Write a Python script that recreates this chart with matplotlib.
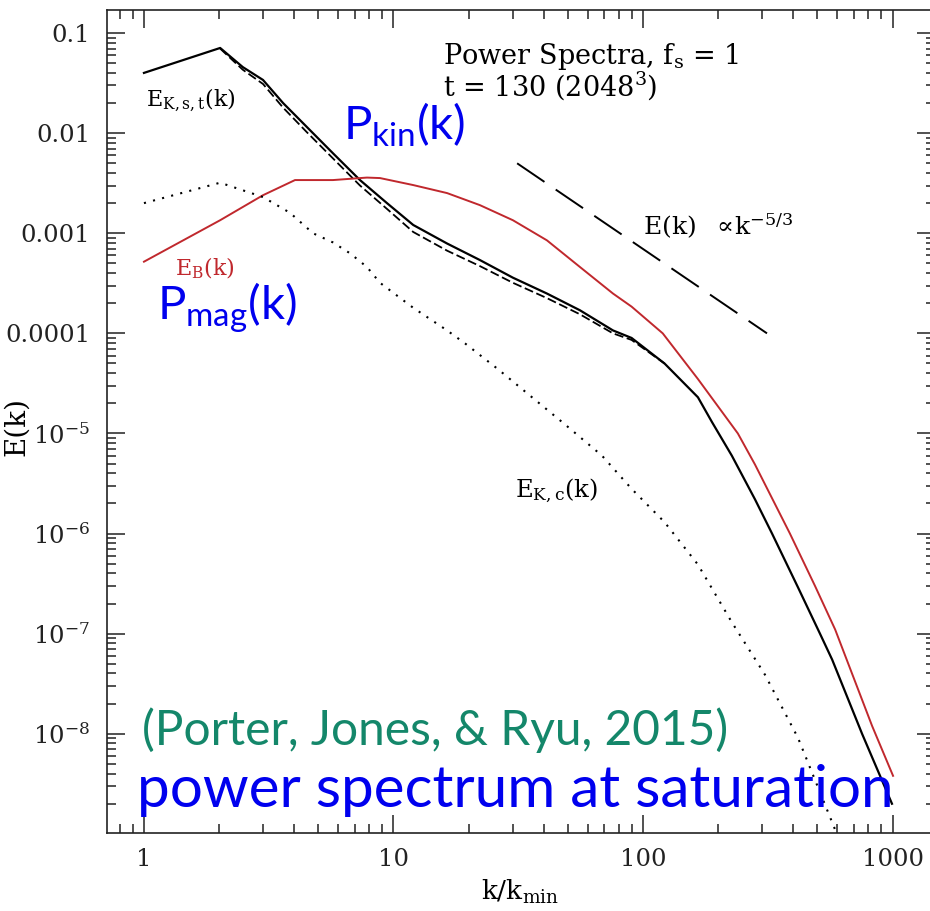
import numpy as np
import matplotlib
matplotlib.use("Agg")
import matplotlib.pyplot as plt
from matplotlib.ticker import FixedLocator, FixedFormatter, LogLocator, NullFormatter

plt.rcParams['font.family'] = ['DejaVu Serif']
plt.rcParams['mathtext.fontset'] = 'custom'
plt.rcParams['mathtext.rm'] = 'DejaVu Serif'
plt.rcParams['mathtext.it'] = 'DejaVu Serif:italic'
plt.rcParams['mathtext.sf'] = 'Lato'

# spectres (k/kmin, E(k))
k_st = [1, 2.02, 2.49, 3.0, 3.61, 4.5, 5.72, 7.34, 9.42, 12.0, 16.4, 22.2, 30.1, 41.2,
        55.9, 75.8, 90, 122, 166, 189, 227, 281, 329, 418, 512, 573, 755, 995]
E_st = [0.040, 0.071, 0.0457, 0.034, 0.020, 0.0115, 0.0063, 0.0034, 0.0020, 1.21e-3,
        7.9e-4, 5.4e-4, 3.6e-4, 2.5e-4, 1.7e-4, 1.07e-4, 9.0e-5, 5.0e-5, 2.3e-5, 1.3e-5,
        6.0e-6, 2.2e-6, 1.0e-6, 2.9e-7, 1.0e-7, 5.5e-8, 1.0e-8, 2.0e-9]

k_s = [2.02, 2.49, 3.0, 3.61, 4.5, 5.72, 7.34, 9.42, 12.0, 16.4, 22.2, 30.1, 41.2, 55.9,
       75.8, 90, 122]
E_s = [0.070, 0.043, 0.031, 0.018, 0.0102, 0.0056, 0.0030, 0.00175, 1.03e-3, 6.7e-4,
       4.7e-4, 3.2e-4, 2.25e-4, 1.55e-4, 1.0e-4, 8.6e-5, 5.0e-5]

k_B = [1, 2.02, 3.0, 4.03, 5.72, 7.83, 8.83, 12.0, 16.4, 22.2, 30.1, 41.2, 55.9, 75.8,
       90, 120, 166, 240, 281, 388, 489, 589, 828, 1005]
E_B = [5.2e-4, 1.35e-3, 2.4e-3, 3.4e-3, 3.4e-3, 3.6e-3, 3.56e-3, 3.03e-3, 2.52e-3,
       1.91e-3, 1.35e-3, 8.5e-4, 4.6e-4, 2.5e-4, 1.85e-4, 1.0e-4, 3.5e-5, 1.0e-5, 4.9e-6,
       1.0e-6, 3.0e-7, 1.1e-7, 1.2e-8, 3.8e-9]

k_c = [1, 2.02, 3.0, 3.85, 4.76, 5.72, 6.7, 7.83, 8.83, 12.0, 16.4, 19.4, 26.2, 35.9,
       48.7, 68.5, 90, 122, 166, 227, 308, 418, 620]
E_c = [2.0e-3, 3.2e-3, 2.3e-3, 1.6e-3, 1.0e-3, 8.1e-4, 6.3e-4, 4.6e-4, 3.2e-4, 1.8e-4,
       1.07e-4, 7.9e-5, 4.4e-5, 2.3e-5, 1.23e-5, 6.0e-6, 2.8e-6, 1.3e-6, 4.9e-7, 1.3e-7,
       3.9e-8, 9.1e-9, 8.0e-10]

# droite de Kolmogorov
k_kol = [31.3, 314]
E_kol = [5.0e-3, 1.0e-4]

ytick_vals = [1e-1, 1e-2, 1e-3, 1e-4, 1e-5, 1e-6, 1e-7, 1e-8]
ytick_labels = ['0.1', '0.01', '0.001', '0.0001', r'$\mathrm{10^{-5}}$',
                r'$\mathrm{10^{-6}}$', r'$\mathrm{10^{-7}}$', r'$\mathrm{10^{-8}}$']
xtick_vals = [1, 10, 100, 1000]
xtick_labels = ['1', '10', '100', '1000']

W, H = 930, 911
fig = plt.figure(figsize=(W / 100, H / 100), dpi=100)
ax = fig.add_axes([107 / W, 78 / H, (935 - 107) / W, 823 / H])
ax.set_xscale('log')
ax.set_yscale('log')
ax.set_xlim(0.711, 1480)
ax.set_ylim(1.02e-9, 0.170)

ax.plot(k_st, E_st, color='black', lw=1.6)
ax.plot(k_s, E_s, color='black', lw=1.3, ls=(0, (5, 2)))
ax.plot(k_B, E_B, color='#c0282d', lw=1.4)
ax.plot(k_c, E_c, color='black', lw=1.5, ls=(0, (1, 3.5)))
ax.plot(k_kol, E_kol, color='black', lw=1.4, ls=(0, (17, 7)))

ax.yaxis.set_major_locator(FixedLocator(ytick_vals))
ax.yaxis.set_major_formatter(FixedFormatter(ytick_labels))
ax.yaxis.set_minor_locator(LogLocator(base=10, subs=np.arange(2, 10), numticks=20))
ax.yaxis.set_minor_formatter(NullFormatter())
ax.xaxis.set_major_locator(FixedLocator(xtick_vals))
ax.xaxis.set_major_formatter(FixedFormatter(xtick_labels))
ax.xaxis.set_minor_locator(LogLocator(base=10, subs=np.arange(2, 10), numticks=20))
ax.xaxis.set_minor_formatter(NullFormatter())

ax.tick_params(which='both', direction='in', top=True, right=True, width=1.1, colors='#222222')
ax.tick_params(which='major', length=13, labelsize=17.5)
ax.tick_params(which='minor', length=6.5)
ax.tick_params(axis='y', pad=12)
ax.tick_params(axis='x', pad=11)
for s in ax.spines.values():
    s.set_linewidth(1.2)
    s.set_color('#222222')

def px(x, y):
    return x / W, 1 - y / H

# textes de la figure originale
fig.text(*px(443, 64), r'Power Spectra, f$_\mathrm{s}$ = 1', fontsize=19.5, va='baseline')
fig.text(*px(443, 96), r't = 130 (2048$^3$)', fontsize=19.5, va='baseline')
fig.text(*px(146, 106), r'$\mathrm{E_{K,s,t}(k)}$', fontsize=16, va='baseline')
fig.text(*px(175, 275), r'$\mathrm{E_B(k)}$', fontsize=16, va='baseline', color='#c0282d')
fig.text(*px(643, 235), r'$\mathrm{E(k)\ \ \propto\!k^{-5/3}}$', fontsize=18, va='baseline')
fig.text(*px(515, 497), r'$\mathrm{E_{K,c}(k)}$', fontsize=17.5, va='baseline')
fig.text(*px(520, 900), r'$\mathrm{k/k_{min}}$', fontsize=19, va='baseline', ha='center')
fig.text(*px(17, 426), 'E(k)', fontsize=20, rotation=90, ha='center', va='center')

# annotations ajoutées (bleu / vert)
blue = '#0000ee'
fig.text(*px(343, 140), r'$\mathsf{P_{kin}(k)}$', fontsize=34, va='baseline', color=blue)
fig.text(*px(157, 320), r'$\mathsf{P_{mag}(k)}$', fontsize=34, va='baseline', color=blue)
fig.text(*px(142, 745), '(Porter, Jones, & Ryu, 2015)', fontsize=34.5, va='baseline',
         color='#14876a', family='Lato')
fig.text(*px(137, 807), 'power spectrum at saturation', fontsize=42, va='baseline',
         color=blue, family='Lato')

fig.savefig('out.png', dpi=100)
